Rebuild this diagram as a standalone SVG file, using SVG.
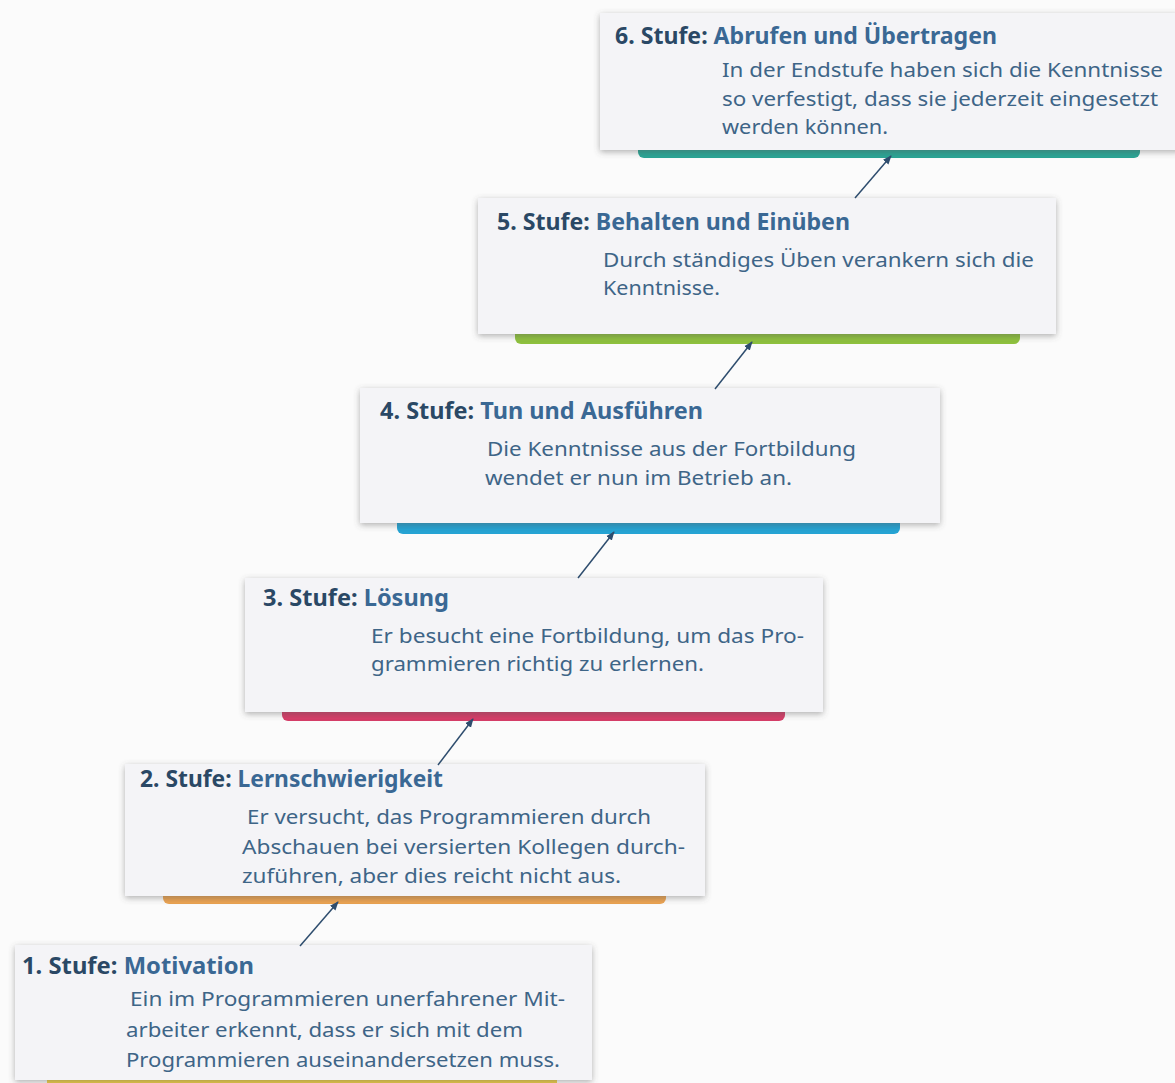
<svg xmlns="http://www.w3.org/2000/svg" width="1175" height="1083" viewBox="0 0 1175 1083">
<defs>
<filter id="sh" x="-5%" y="-10%" width="110%" height="130%">
<feDropShadow dx="0" dy="2" stdDeviation="3" flood-color="#555" flood-opacity="0.45"/>
</filter>
<marker id="ah" viewBox="0 0 10 10" refX="9" refY="5" markerWidth="9" markerHeight="9" orient="auto" markerUnits="userSpaceOnUse">
<path d="M0,1 L10,5 L0,9 z" fill="#2e4d6e"/>
</marker>
</defs>
<style>
.box{fill:#f4f4f7;filter:url(#sh)}
.t{font-family:"Noto Sans","Open Sans",sans-serif;font-weight:bold;font-size:23px}
.num{fill:#2a4865}
.nm{fill:#3a6894}
.b{font-family:"Noto Sans","Open Sans",sans-serif;font-size:20.5px;fill:#3e6587}
.c{stroke:#2e4d6e;stroke-width:1.5;fill:none;marker-end:url(#ah)}
</style>
<rect width="1175" height="1083" fill="#fbfbfb"/>
<g id="stufe6">
<rect x="638" y="140" width="502" height="18" rx="6" fill="#2aa595"/>
<rect class="box" x="600" y="13" width="580" height="137"/>
<text class="t" x="615" y="44" textLength="382" lengthAdjust="spacingAndGlyphs"><tspan class="num">6. Stufe: </tspan><tspan class="nm">Abrufen und Übertragen</tspan></text>
<text class="b" x="722" y="77" textLength="441" lengthAdjust="spacingAndGlyphs">In der Endstufe haben sich die Kenntnisse</text>
<text class="b" x="722" y="106" textLength="436" lengthAdjust="spacingAndGlyphs">so verfestigt, dass sie jederzeit eingesetzt</text>
<text class="b" x="722" y="134" textLength="166" lengthAdjust="spacingAndGlyphs">werden können.</text>
</g>
<g id="stufe5">
<rect x="515" y="326" width="505" height="18" rx="6" fill="#8ec13e"/>
<rect class="box" x="478" y="198" width="578" height="136"/>
<text class="t" x="497" y="230" textLength="353" lengthAdjust="spacingAndGlyphs"><tspan class="num">5. Stufe: </tspan><tspan class="nm">Behalten und Einüben</tspan></text>
<text class="b" x="603" y="267" textLength="431" lengthAdjust="spacingAndGlyphs">Durch ständiges Üben verankern sich die</text>
<text class="b" x="603" y="295" textLength="117" lengthAdjust="spacingAndGlyphs">Kenntnisse.</text>
</g>
<g id="stufe4">
<rect x="397" y="516" width="503" height="18" rx="6" fill="#25a3d3"/>
<rect class="box" x="360" y="388" width="580" height="135"/>
<text class="t" x="380" y="419" textLength="323" lengthAdjust="spacingAndGlyphs"><tspan class="num">4. Stufe: </tspan><tspan class="nm">Tun und Ausführen</tspan></text>
<text class="b" x="487" y="456" textLength="369" lengthAdjust="spacingAndGlyphs">Die Kenntnisse aus der Fortbildung</text>
<text class="b" x="485" y="485" textLength="307" lengthAdjust="spacingAndGlyphs">wendet er nun im Betrieb an.</text>
</g>
<g id="stufe3">
<rect x="282" y="703" width="503" height="18" rx="6" fill="#d63d68"/>
<rect class="box" x="245" y="578" width="578" height="134"/>
<text class="t" x="263" y="606" textLength="186" lengthAdjust="spacingAndGlyphs"><tspan class="num">3. Stufe: </tspan><tspan class="nm">Lösung</tspan></text>
<text class="b" x="371" y="643" textLength="433" lengthAdjust="spacingAndGlyphs">Er besucht eine Fortbildung, um das Pro-</text>
<text class="b" x="371" y="671" textLength="333" lengthAdjust="spacingAndGlyphs">grammieren richtig zu erlernen.</text>
</g>
<g id="stufe2">
<rect x="163" y="886" width="503" height="18" rx="6" fill="#eba352"/>
<rect class="box" x="125" y="764" width="580" height="132"/>
<text class="t" x="140" y="787" textLength="303" lengthAdjust="spacingAndGlyphs"><tspan class="num">2. Stufe: </tspan><tspan class="nm">Lernschwierigkeit</tspan></text>
<text class="b" x="247" y="824" textLength="404" lengthAdjust="spacingAndGlyphs">Er versucht, das Programmieren durch</text>
<text class="b" x="242" y="854" textLength="443" lengthAdjust="spacingAndGlyphs">Abschauen bei versierten Kollegen durch-</text>
<text class="b" x="242" y="883" textLength="379" lengthAdjust="spacingAndGlyphs">zuführen, aber dies reicht nicht aus.</text>
</g>
<g id="stufe1">
<rect x="47" y="1070" width="510" height="18" rx="6" fill="#f0cf45"/>
<rect class="box" x="15" y="945" width="577" height="135"/>
<text class="t" x="22" y="974" textLength="232" lengthAdjust="spacingAndGlyphs"><tspan class="num">1. Stufe: </tspan><tspan class="nm">Motivation</tspan></text>
<text class="b" x="130" y="1006" textLength="435" lengthAdjust="spacingAndGlyphs">Ein im Programmieren unerfahrener Mit-</text>
<text class="b" x="126" y="1037" textLength="397" lengthAdjust="spacingAndGlyphs">arbeiter erkennt, dass er sich mit dem</text>
<text class="b" x="126" y="1067" textLength="434" lengthAdjust="spacingAndGlyphs">Programmieren auseinandersetzen muss.</text>
</g>
<g id="connectors">
<line class="c" x1="300" y1="946" x2="338" y2="902"/>
<line class="c" x1="438" y1="765" x2="473" y2="719"/>
<line class="c" x1="578" y1="578" x2="614" y2="532"/>
<line class="c" x1="715" y1="389" x2="752" y2="342"/>
<line class="c" x1="855" y1="198" x2="891" y2="156"/>
</g>
</svg>
